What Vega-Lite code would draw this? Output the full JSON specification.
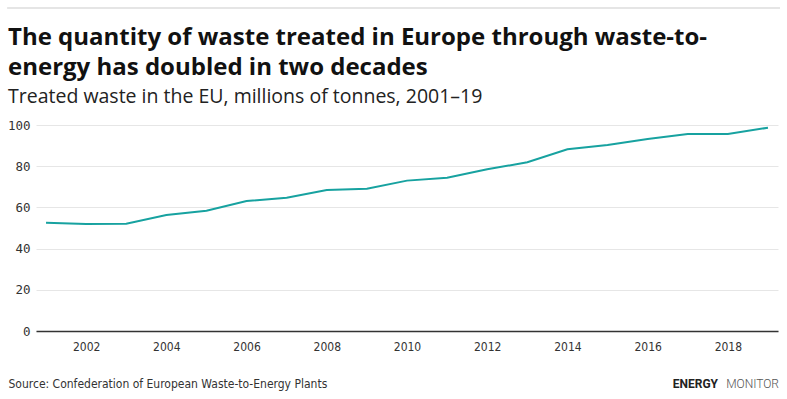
{
  "$schema": "https://vega.github.io/schema/vega-lite/v6.json",
  "width": 742,
  "height": 206,
  "autosize": {"type": "none"},
  "padding": {"top": 125, "left": 36, "right": 9, "bottom": 68},
  "background": "white",
  "config": {"view": {"stroke": null}},
  "title": {
    "text": ["The quantity of waste treated in Europe through waste-to-", "energy has doubled in two decades"],
    "subtitle": "Treated waste in the EU, millions of tonnes, 2001–19",
    "anchor": "start",
    "frame": "group",
    "dx": -28,
    "font": "Open Sans",
    "fontSize": 24,
    "fontWeight": "bold",
    "lineHeight": 30,
    "color": "#111111",
    "subtitleFont": "Open Sans",
    "subtitleFontSize": 19.5,
    "subtitleColor": "#222222",
    "subtitlePadding": 8,
    "offset": -99
  },
  "data": {
    "values": [
      {"year": 2001, "waste": 52.5},
      {"year": 2002, "waste": 51.9},
      {"year": 2003, "waste": 52.1},
      {"year": 2004, "waste": 56.3},
      {"year": 2005, "waste": 58.4},
      {"year": 2006, "waste": 63.1},
      {"year": 2007, "waste": 64.7},
      {"year": 2008, "waste": 68.4},
      {"year": 2009, "waste": 69.1},
      {"year": 2010, "waste": 73.0},
      {"year": 2011, "waste": 74.4},
      {"year": 2012, "waste": 78.5},
      {"year": 2013, "waste": 81.9},
      {"year": 2014, "waste": 88.2},
      {"year": 2015, "waste": 90.3},
      {"year": 2016, "waste": 93.2},
      {"year": 2017, "waste": 95.6},
      {"year": 2018, "waste": 95.6},
      {"year": 2019, "waste": 98.7}
    ]
  },
  "layer": [
    {
      "mark": {"type": "line", "color": "#17a2a0", "strokeWidth": 2},
      "encoding": {
        "x": {
          "field": "year",
          "type": "quantitative",
          "scale": {"domain": [2000.75, 2019.25], "nice": false, "zero": false},
          "axis": {
            "values": [2002, 2004, 2006, 2008, 2010, 2012, 2014, 2016, 2018],
            "format": "d",
            "grid": false,
            "ticks": false,
            "domainColor": "#333333",
            "domainWidth": 1.5,
            "labelFont": "DejaVu Sans Condensed, Roboto Condensed, Roboto",
            "labelFontSize": 12,
            "labelColor": "#333333",
            "labelPadding": 10,
            "title": "Source: Confederation of European Waste-to-Energy Plants",
            "titleFont": "DejaVu Sans Condensed, Roboto Condensed, Roboto",
            "titleFontSize": 12,
            "titleFontWeight": "normal",
            "titleColor": "#333333",
            "titleAnchor": "start",
            "titleAlign": "left",
            "titleBaseline": "middle",
            "titleX": -28,
            "titleY": 52
          }
        },
        "y": {
          "field": "waste",
          "type": "quantitative",
          "scale": {"domain": [0, 100], "nice": false},
          "axis": {
            "values": [0, 20, 40, 60, 80, 100],
            "grid": true,
            "gridColor": "#e6e6e6",
            "domain": false,
            "ticks": false,
            "labelFont": "DejaVu Sans Mono",
            "labelFontSize": 12.5,
            "labelColor": "#333333",
            "labelPadding": 6,
            "title": null
          }
        }
      }
    },
    {
      "data": {"values": [{"from": 2000.03, "to": 2019.3, "level": 156.8}]},
      "mark": {"type": "rule", "color": "#dddddd", "strokeWidth": 1.5},
      "encoding": {
        "x": {"field": "from", "type": "quantitative"},
        "x2": {"field": "to"},
        "y": {"field": "level", "type": "quantitative"}
      }
    },
    {
      "data": {"values": [{"brand": "MONITOR"}]},
      "mark": {"type": "text", "align": "right", "baseline": "middle", "font": "Roboto", "fontWeight": 300, "fontSize": 12, "color": "#555555", "dx": 1},
      "encoding": {
        "x": {"datum": 2019.25},
        "y": {"datum": -25.5},
        "text": {"field": "brand"}
      }
    },
    {
      "data": {"values": [{"brand": "ENERGY"}]},
      "mark": {"type": "text", "align": "right", "baseline": "middle", "font": "Roboto", "fontWeight": "bold", "fontSize": 12, "color": "#222222", "dx": -60},
      "encoding": {
        "x": {"datum": 2019.25},
        "y": {"datum": -25.5},
        "text": {"field": "brand"}
      }
    }
  ]
}
